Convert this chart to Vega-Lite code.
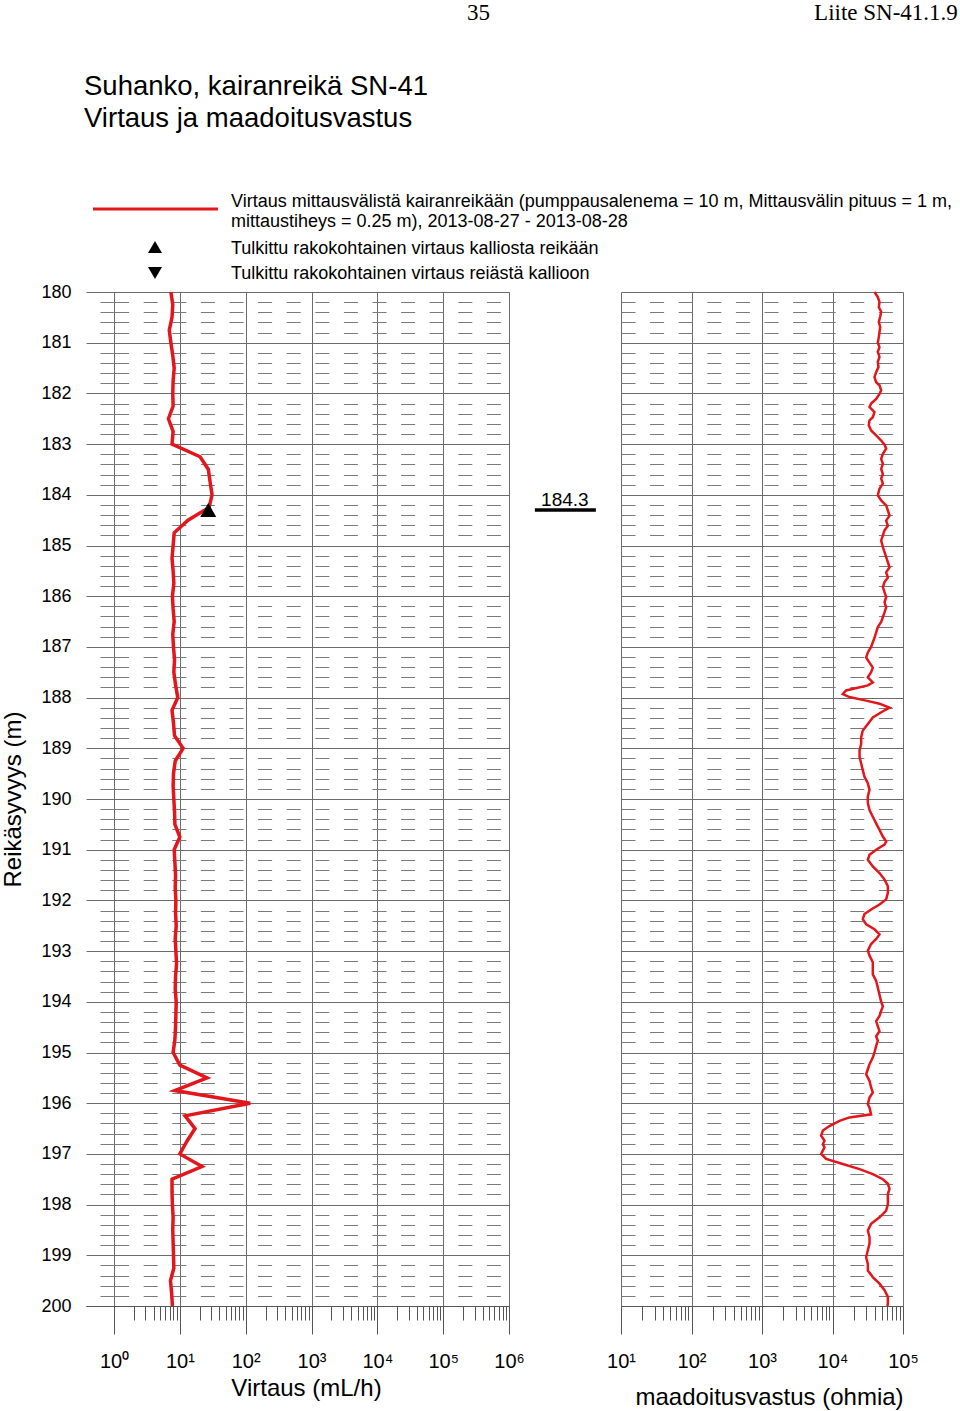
{
  "$schema": "https://vega.github.io/schema/vega-lite/v6.json",
  "autosize": {"type": "none"},
  "padding": {"left": 86, "top": 292, "right": 874, "bottom": 1119},
  "background": "white",
  "bounds": "flush",
  "spacing": 112,
  "config": {
    "font": "Liberation Sans",
    "view": {"stroke": null},
    "axis": {"labelFont": "Liberation Sans", "titleFont": "Liberation Sans", "titleFontWeight": "normal", "labelColor": "black", "titleColor": "black", "labelFlush": false, "labelOverlap": false, "labelBound": false},
    "text": {"font": "Liberation Sans", "color": "black"}
  },
  "datasets": {
    "flow": [
      {"depth": 180.0, "q": 7.3}, {"depth": 180.25, "q": 7.8}, {"depth": 180.5, "q": 7.6}, {"depth": 180.75, "q": 6.9},
      {"depth": 181.0, "q": 7.3}, {"depth": 181.25, "q": 7.8}, {"depth": 181.5, "q": 8.2}, {"depth": 181.75, "q": 7.9},
      {"depth": 182.0, "q": 7.8}, {"depth": 182.25, "q": 7.9}, {"depth": 182.5, "q": 6.7}, {"depth": 182.75, "q": 7.9},
      {"depth": 183.0, "q": 7.6}, {"depth": 183.25, "q": 20.3}, {"depth": 183.5, "q": 27.1}, {"depth": 183.75, "q": 28.8},
      {"depth": 184.0, "q": 30.8}, {"depth": 184.25, "q": 27.8}, {"depth": 184.5, "q": 13.3}, {"depth": 184.75, "q": 8.2},
      {"depth": 185.0, "q": 7.9}, {"depth": 185.25, "q": 7.6}, {"depth": 185.5, "q": 7.9}, {"depth": 185.75, "q": 8.1},
      {"depth": 186.0, "q": 7.7}, {"depth": 186.25, "q": 7.9}, {"depth": 186.5, "q": 8.2}, {"depth": 186.75, "q": 7.8},
      {"depth": 187.0, "q": 8.0}, {"depth": 187.25, "q": 8.3}, {"depth": 187.5, "q": 8.1}, {"depth": 187.75, "q": 8.6},
      {"depth": 188.0, "q": 9.3}, {"depth": 188.25, "q": 7.6}, {"depth": 188.5, "q": 8.0}, {"depth": 188.75, "q": 8.3},
      {"depth": 189.0, "q": 11.2}, {"depth": 189.25, "q": 8.5}, {"depth": 189.5, "q": 8.0}, {"depth": 189.75, "q": 7.9},
      {"depth": 190.0, "q": 8.1}, {"depth": 190.25, "q": 8.3}, {"depth": 190.5, "q": 8.4}, {"depth": 190.75, "q": 10.0},
      {"depth": 191.0, "q": 8.2}, {"depth": 191.25, "q": 8.4}, {"depth": 191.5, "q": 8.6}, {"depth": 191.75, "q": 8.5},
      {"depth": 192.0, "q": 8.7}, {"depth": 192.25, "q": 8.6}, {"depth": 192.5, "q": 8.8}, {"depth": 192.75, "q": 8.5},
      {"depth": 193.0, "q": 8.7}, {"depth": 193.25, "q": 8.9}, {"depth": 193.5, "q": 8.6}, {"depth": 193.75, "q": 8.5},
      {"depth": 194.0, "q": 8.8}, {"depth": 194.25, "q": 8.7}, {"depth": 194.5, "q": 8.6}, {"depth": 194.75, "q": 8.4},
      {"depth": 195.0, "q": 7.9}, {"depth": 195.25, "q": 10.0}, {"depth": 195.5, "q": 25.9}, {"depth": 195.75, "q": 8.4},
      {"depth": 196.0, "q": 117}, {"depth": 196.25, "q": 12.0}, {"depth": 196.5, "q": 17.0}, {"depth": 196.75, "q": 12.8},
      {"depth": 197.0, "q": 10.0}, {"depth": 197.25, "q": 21.7}, {"depth": 197.5, "q": 7.6}, {"depth": 197.75, "q": 7.6},
      {"depth": 198.0, "q": 7.7}, {"depth": 198.25, "q": 7.9}, {"depth": 198.5, "q": 7.8}, {"depth": 198.75, "q": 7.9},
      {"depth": 199.0, "q": 8.0}, {"depth": 199.25, "q": 8.1}, {"depth": 199.5, "q": 7.2}, {"depth": 199.75, "q": 7.5},
      {"depth": 200.0, "q": 7.7}
    ],
    "res": [
      {"depth": 180.0, "r": 39400}, {"depth": 180.1, "r": 43900}, {"depth": 180.2, "r": 46400}, {"depth": 180.3, "r": 45400},
      {"depth": 180.39, "r": 49000}, {"depth": 180.49, "r": 47400}, {"depth": 180.59, "r": 45400}, {"depth": 180.69, "r": 47400},
      {"depth": 180.79, "r": 46400}, {"depth": 180.89, "r": 45400}, {"depth": 181.0, "r": 43900}, {"depth": 181.09, "r": 46400},
      {"depth": 181.18, "r": 43900}, {"depth": 181.28, "r": 46400}, {"depth": 181.38, "r": 43900}, {"depth": 181.48, "r": 44900},
      {"depth": 181.58, "r": 41600}, {"depth": 181.68, "r": 39400}, {"depth": 181.78, "r": 41600}, {"depth": 181.84, "r": 46400},
      {"depth": 181.94, "r": 49000}, {"depth": 182.01, "r": 46400}, {"depth": 182.11, "r": 41600}, {"depth": 182.2, "r": 35300},
      {"depth": 182.27, "r": 33500}, {"depth": 182.37, "r": 39400}, {"depth": 182.47, "r": 37300}, {"depth": 182.53, "r": 33500},
      {"depth": 182.63, "r": 32700}, {"depth": 182.73, "r": 35300}, {"depth": 182.83, "r": 41600}, {"depth": 182.93, "r": 49000},
      {"depth": 183.01, "r": 54700}, {"depth": 183.09, "r": 57700}, {"depth": 183.19, "r": 51800}, {"depth": 183.29, "r": 49000},
      {"depth": 183.39, "r": 51800}, {"depth": 183.49, "r": 49000}, {"depth": 183.59, "r": 51800}, {"depth": 183.68, "r": 49000},
      {"depth": 183.78, "r": 51800}, {"depth": 183.88, "r": 46400}, {"depth": 184.01, "r": 43900}, {"depth": 184.11, "r": 49000},
      {"depth": 184.21, "r": 57700}, {"depth": 184.31, "r": 61000}, {"depth": 184.41, "r": 64400}, {"depth": 184.51, "r": 57700},
      {"depth": 184.61, "r": 61000}, {"depth": 184.7, "r": 54700}, {"depth": 184.8, "r": 51800}, {"depth": 184.9, "r": 49000},
      {"depth": 185.03, "r": 51800}, {"depth": 185.13, "r": 54700}, {"depth": 185.23, "r": 57700}, {"depth": 185.33, "r": 61000},
      {"depth": 185.43, "r": 64400}, {"depth": 185.53, "r": 57700}, {"depth": 185.63, "r": 61000}, {"depth": 185.72, "r": 54700},
      {"depth": 185.82, "r": 51800}, {"depth": 185.92, "r": 54700}, {"depth": 186.02, "r": 57700}, {"depth": 186.12, "r": 54700},
      {"depth": 186.22, "r": 57700}, {"depth": 186.32, "r": 54700}, {"depth": 186.41, "r": 51800}, {"depth": 186.51, "r": 49000},
      {"depth": 186.61, "r": 43900}, {"depth": 186.82, "r": 39400}, {"depth": 187.0, "r": 35300}, {"depth": 187.11, "r": 31700},
      {"depth": 187.21, "r": 30000}, {"depth": 187.31, "r": 33500}, {"depth": 187.41, "r": 37300}, {"depth": 187.5, "r": 35300},
      {"depth": 187.6, "r": 31700}, {"depth": 187.7, "r": 37300}, {"depth": 187.76, "r": 31700}, {"depth": 187.86, "r": 15600},
      {"depth": 187.93, "r": 14000}, {"depth": 187.99, "r": 17400}, {"depth": 188.06, "r": 30000}, {"depth": 188.12, "r": 46400},
      {"depth": 188.2, "r": 64400}, {"depth": 188.25, "r": 54700}, {"depth": 188.39, "r": 37300}, {"depth": 188.52, "r": 31700},
      {"depth": 188.65, "r": 26900}, {"depth": 188.78, "r": 25500}, {"depth": 188.91, "r": 25500}, {"depth": 189.04, "r": 24200},
      {"depth": 189.17, "r": 24200}, {"depth": 189.3, "r": 25500}, {"depth": 189.43, "r": 26900}, {"depth": 189.56, "r": 28400},
      {"depth": 189.69, "r": 31700}, {"depth": 189.82, "r": 33500}, {"depth": 189.95, "r": 31700}, {"depth": 190.08, "r": 31700},
      {"depth": 190.22, "r": 33500}, {"depth": 190.35, "r": 37300}, {"depth": 190.48, "r": 41600}, {"depth": 190.61, "r": 46400},
      {"depth": 190.74, "r": 51800}, {"depth": 190.84, "r": 57700}, {"depth": 190.9, "r": 54700}, {"depth": 191.0, "r": 41600},
      {"depth": 191.1, "r": 33500}, {"depth": 191.2, "r": 31700}, {"depth": 191.33, "r": 37300}, {"depth": 191.46, "r": 46400},
      {"depth": 191.59, "r": 54700}, {"depth": 191.72, "r": 61000}, {"depth": 191.85, "r": 61000}, {"depth": 191.98, "r": 57700},
      {"depth": 192.08, "r": 46400}, {"depth": 192.18, "r": 35300}, {"depth": 192.27, "r": 28400}, {"depth": 192.37, "r": 26900},
      {"depth": 192.47, "r": 30000}, {"depth": 192.57, "r": 39400}, {"depth": 192.67, "r": 46400}, {"depth": 192.76, "r": 41600},
      {"depth": 192.86, "r": 35300}, {"depth": 192.99, "r": 31700}, {"depth": 193.09, "r": 33500}, {"depth": 193.22, "r": 37300},
      {"depth": 193.35, "r": 37300}, {"depth": 193.46, "r": 37300}, {"depth": 193.59, "r": 41600}, {"depth": 193.72, "r": 43900},
      {"depth": 193.86, "r": 46400}, {"depth": 194.0, "r": 49000}, {"depth": 194.09, "r": 51800}, {"depth": 194.18, "r": 49000},
      {"depth": 194.28, "r": 46400}, {"depth": 194.38, "r": 41600}, {"depth": 194.48, "r": 43900}, {"depth": 194.58, "r": 46400},
      {"depth": 194.68, "r": 41600}, {"depth": 194.77, "r": 43900}, {"depth": 194.87, "r": 41600}, {"depth": 195.0, "r": 39400},
      {"depth": 195.1, "r": 37300}, {"depth": 195.23, "r": 33500}, {"depth": 195.33, "r": 31700}, {"depth": 195.43, "r": 30000},
      {"depth": 195.56, "r": 33500}, {"depth": 195.69, "r": 35300}, {"depth": 195.79, "r": 37300}, {"depth": 195.89, "r": 33500},
      {"depth": 196.02, "r": 31700}, {"depth": 196.09, "r": 33500}, {"depth": 196.22, "r": 35300}, {"depth": 196.28, "r": 17400},
      {"depth": 196.35, "r": 12560}, {"depth": 196.45, "r": 9060}, {"depth": 196.54, "r": 7300}, {"depth": 196.64, "r": 6900},
      {"depth": 196.74, "r": 7700}, {"depth": 196.81, "r": 7300}, {"depth": 196.87, "r": 7700}, {"depth": 197.0, "r": 6900},
      {"depth": 197.1, "r": 8130}, {"depth": 197.2, "r": 14000}, {"depth": 197.3, "r": 24200}, {"depth": 197.4, "r": 37300},
      {"depth": 197.5, "r": 51800}, {"depth": 197.59, "r": 61000}, {"depth": 197.69, "r": 64400}, {"depth": 197.79, "r": 61000},
      {"depth": 197.89, "r": 61000}, {"depth": 197.99, "r": 61000}, {"depth": 198.12, "r": 57700}, {"depth": 198.25, "r": 46400},
      {"depth": 198.38, "r": 35300}, {"depth": 198.51, "r": 31700}, {"depth": 198.64, "r": 33500}, {"depth": 198.77, "r": 33500},
      {"depth": 198.9, "r": 31700}, {"depth": 199.04, "r": 30000}, {"depth": 199.17, "r": 31700}, {"depth": 199.3, "r": 31700},
      {"depth": 199.43, "r": 37300}, {"depth": 199.56, "r": 46400}, {"depth": 199.69, "r": 54700}, {"depth": 199.82, "r": 61000},
      {"depth": 199.95, "r": 61000}, {"depth": 200.0, "r": 60000}
    ],
    "marker": [{"depth": 184.3, "q": 27}]
  },
  "hconcat": [
    {
      "width": 423,
      "height": 1014,
      "layer": [
        {
          "data": {"name": "flow"},
          "mark": {"type": "line", "color": "#e3161b", "strokeWidth": 3.5},
          "encoding": {
            "x": {"field": "q", "type": "quantitative",
              "scale": {"type": "log", "domain": [0.375, 1000000], "nice": false},
              "axis": {"orient": "bottom", "values": [1, 10, 100, 1000, 10000, 100000, 1000000],
                "grid": true, "gridColor": "#6b6b6b", "gridWidth": 1,
                "ticks": true, "tickSize": 28, "tickColor": "#555555", "tickWidth": 1,
                "domain": true, "domainColor": "#555555", "domainWidth": 1,
                "labelExpr": "'10' + ['⁰','¹','²','³','⁴','⁵','⁶'][round(log(datum.value)/LN10)]",
                "labelFontSize": 20, "labelPadding": 17,
                "title": "Virtaus (mL/h)", "titleFontSize": 24, "titleX": 220, "titleY": 89,
                "titleAlign": "center", "titleBaseline": "alphabetic"}},
            "y": {"field": "depth", "type": "quantitative",
              "scale": {"domain": [180, 200], "reverse": true, "nice": false, "zero": false},
              "axis": {"orient": "left", "values": [180,181,182,183,184,185,186,187,188,189,190,191,192,193,194,195,196,197,198,199,200],
                "grid": true, "gridColor": "#6b6b6b", "gridWidth": 1, "ticks": false, "domain": false,
                "labelFontSize": 18, "labelPadding": 15, "format": "d",
                "title": "Reikäsyvyys (m)", "titleFontSize": 24, "titleAngle": 270, "titleX": -73, "titleY": 507,
                "titleAlign": "center", "titleBaseline": "middle"}},
            "order": {"field": "depth"}
          }
        },
        {
          "data": {"name": "marker"},
          "mark": {"type": "point", "shape": "triangle-up", "filled": true, "color": "black", "opacity": 1, "size": 256},
          "encoding": {
            "x": {"field": "q", "type": "quantitative",
              "axis": {"orient": "bottom", "values": [2,3,4,5,6,7,8,9,20,30,40,50,60,70,80,90,200,300,400,500,600,700,800,900,2000,3000,4000,5000,6000,7000,8000,9000,20000,30000,40000,50000,60000,70000,80000,90000,200000,300000,400000,500000,600000,700000,800000,900000],
                "grid": false, "ticks": true, "tickSize": 14, "tickColor": "#555555", "labels": false, "domain": false, "title": null}},
            "y": {"field": "depth", "type": "quantitative",
              "axis": {"orient": "left", "values": [180.2,180.4,180.6,180.8,181.2,181.4,181.6,181.8,182.2,182.4,182.6,182.8,183.2,183.4,183.6,183.8,184.2,184.4,184.6,184.8,185.2,185.4,185.6,185.8,186.2,186.4,186.6,186.8,187.2,187.4,187.6,187.8,188.2,188.4,188.6,188.8,189.2,189.4,189.6,189.8,190.2,190.4,190.6,190.8,191.2,191.4,191.6,191.8,192.2,192.4,192.6,192.8,193.2,193.4,193.6,193.8,194.2,194.4,194.6,194.8,195.2,195.4,195.6,195.8,196.2,196.4,196.6,196.8,197.2,197.4,197.6,197.8,198.2,198.4,198.6,198.8,199.2,199.4,199.6,199.8],
                "grid": true, "gridDash": [0, 14, 28.6, 14.6, 14, 14.6, 14, 14.6, 14, 14.6, 14, 14.6, 14, 14.6, 14, 14.6, 14, 14.6, 14, 14.6, 14, 14.6, 14, 14.6, 14, 14.6, 14, 14.6, 14, 14.6, 14, 14.6, 14, 14.6, 14, 100],
                "gridColor": "#7a7a7a", "gridWidth": 1,
                "ticks": false, "labels": false, "domain": false, "title": null}}
          }
        },
        {
          "data": {"name": "marker"},
          "mark": {"type": "text", "text": ["Suhanko, kairanreikä SN-41", "Virtaus ja maadoitusvastus"], "fontSize": 27.5, "lineHeight": 32, "align": "left", "baseline": "alphabetic"},
          "encoding": {"x": {"datum": 0.35, "type": "quantitative", "axis": null}, "y": {"datum": 176.11, "type": "quantitative", "axis": null}}
        },
        {
          "data": {"name": "marker"},
          "mark": {"type": "text", "text": "35", "font": "Liberation Serif", "fontSize": 23, "align": "center", "baseline": "alphabetic"},
          "encoding": {"x": {"datum": 343600, "type": "quantitative", "axis": null}, "y": {"datum": 174.64, "type": "quantitative", "axis": null}}
        },
        {
          "data": {"name": "marker"},
          "mark": {"type": "rule", "color": "#e3161b", "strokeWidth": 3},
          "encoding": {"x": {"datum": 0.479, "type": "quantitative", "axis": null}, "x2": {"datum": 37.9}, "y": {"datum": 178.363, "type": "quantitative", "axis": null}}
        },
        {
          "data": {"name": "marker"},
          "mark": {"type": "text", "text": ["Virtaus mittausvälistä kairanreikään (pumppausalenema = 10 m, Mittausvälin pituus = 1 m,", "mittaustiheys = 0.25 m), 2013-08-27 - 2013-08-28"], "fontSize": 18, "lineHeight": 20, "align": "left", "baseline": "alphabetic"},
          "encoding": {"x": {"datum": 59.8, "type": "quantitative", "axis": null}, "y": {"datum": 178.314, "type": "quantitative", "axis": null}}
        },
        {
          "data": {"name": "marker"},
          "mark": {"type": "point", "shape": "triangle-up", "filled": true, "color": "black", "opacity": 1, "size": 196},
          "encoding": {"x": {"datum": 4.19, "type": "quantitative", "axis": null}, "y": {"datum": 179.112, "type": "quantitative", "axis": null}}
        },
        {
          "data": {"name": "marker"},
          "mark": {"type": "point", "shape": "triangle-down", "filled": true, "color": "black", "opacity": 1, "size": 196},
          "encoding": {"x": {"datum": 4.19, "type": "quantitative", "axis": null}, "y": {"datum": 179.625, "type": "quantitative", "axis": null}}
        },
        {
          "data": {"name": "marker"},
          "mark": {"type": "text", "text": "Tulkittu rakokohtainen virtaus kalliosta reikään", "fontSize": 18, "align": "left", "baseline": "alphabetic"},
          "encoding": {"x": {"datum": 59.8, "type": "quantitative", "axis": null}, "y": {"datum": 179.241, "type": "quantitative", "axis": null}}
        },
        {
          "data": {"name": "marker"},
          "mark": {"type": "text", "text": "Tulkittu rakokohtainen virtaus reiästä kallioon", "fontSize": 18, "align": "left", "baseline": "alphabetic"},
          "encoding": {"x": {"datum": 59.8, "type": "quantitative", "axis": null}, "y": {"datum": 179.753, "type": "quantitative", "axis": null}}
        }
      ],
      "resolve": {"axis": {"x": "independent", "y": "independent"}}
    },
    {
      "width": 282,
      "height": 1014,
      "layer": [
        {
          "data": {"name": "res"},
          "mark": {"type": "line", "color": "#e3161b", "strokeWidth": 2.5},
          "encoding": {
            "x": {"field": "r", "type": "quantitative",
              "scale": {"type": "log", "domain": [10, 100000], "nice": false},
              "axis": {"orient": "bottom", "values": [10, 100, 1000, 10000, 100000],
                "grid": true, "gridColor": "#6b6b6b", "gridWidth": 1,
                "ticks": true, "tickSize": 28, "tickColor": "#555555", "tickWidth": 1,
                "domain": true, "domainColor": "#555555", "domainWidth": 1,
                "labelExpr": "'10' + ['⁰','¹','²','³','⁴','⁵','⁶'][round(log(datum.value)/LN10)]",
                "labelFontSize": 20, "labelPadding": 17,
                "title": "maadoitusvastus (ohmia)", "titleFontSize": 24, "titleX": 148, "titleY": 98,
                "titleAlign": "center", "titleBaseline": "alphabetic"}},
            "y": {"field": "depth", "type": "quantitative",
              "scale": {"domain": [180, 200], "reverse": true, "nice": false, "zero": false},
              "axis": {"orient": "left", "values": [180,181,182,183,184,185,186,187,188,189,190,191,192,193,194,195,196,197,198,199,200],
                "grid": true, "gridColor": "#6b6b6b", "gridWidth": 1, "ticks": false, "domain": false, "labels": false, "title": null}},
            "order": {"field": "depth"}
          }
        },
        {
          "data": {"name": "marker"},
          "mark": {"type": "rule", "color": "black", "strokeWidth": 3.5},
          "encoding": {
            "x": {"datum": 0.6, "type": "quantitative",
              "axis": {"orient": "bottom", "values": [20,30,40,50,60,70,80,90,200,300,400,500,600,700,800,900,2000,3000,4000,5000,6000,7000,8000,9000,20000,30000,40000,50000,60000,70000,80000,90000],
                "grid": false, "ticks": true, "tickSize": 14, "tickColor": "#555555", "labels": false, "domain": false, "title": null}},
            "x2": {"datum": 4.4},
            "y": {"field": "depth", "type": "quantitative",
              "axis": {"orient": "left", "values": [180.2,180.4,180.6,180.8,181.2,181.4,181.6,181.8,182.2,182.4,182.6,182.8,183.2,183.4,183.6,183.8,184.2,184.4,184.6,184.8,185.2,185.4,185.6,185.8,186.2,186.4,186.6,186.8,187.2,187.4,187.6,187.8,188.2,188.4,188.6,188.8,189.2,189.4,189.6,189.8,190.2,190.4,190.6,190.8,191.2,191.4,191.6,191.8,192.2,192.4,192.6,192.8,193.2,193.4,193.6,193.8,194.2,194.4,194.6,194.8,195.2,195.4,195.6,195.8,196.2,196.4,196.6,196.8,197.2,197.4,197.6,197.8,198.2,198.4,198.6,198.8,199.2,199.4,199.6,199.8],
                "grid": true, "gridDash": [14, 14.6], "gridColor": "#7a7a7a", "gridWidth": 1,
                "ticks": false, "labels": false, "domain": false, "title": null}}
          }
        },
        {
          "data": {"name": "marker"},
          "mark": {"type": "text", "fontSize": 19, "align": "center", "baseline": "alphabetic", "dy": -4},
          "encoding": {
            "x": {"datum": 1.6, "type": "quantitative", "axis": null},
            "y": {"field": "depth", "type": "quantitative", "axis": null},
            "text": {"field": "depth", "type": "quantitative", "format": ".1f"}
          }
        },
        {
          "data": {"name": "marker"},
          "mark": {"type": "text", "text": "Liite SN-41.1.9", "font": "Liberation Serif", "fontSize": 23, "align": "right", "baseline": "alphabetic"},
          "encoding": {"x": {"datum": 600000, "type": "quantitative", "axis": null}, "y": {"datum": 174.64, "type": "quantitative", "axis": null}}
        }
      ],
      "resolve": {"axis": {"x": "independent", "y": "independent"}}
    }
  ],
  "resolve": {"scale": {"x": "independent", "y": "independent"}}
}
